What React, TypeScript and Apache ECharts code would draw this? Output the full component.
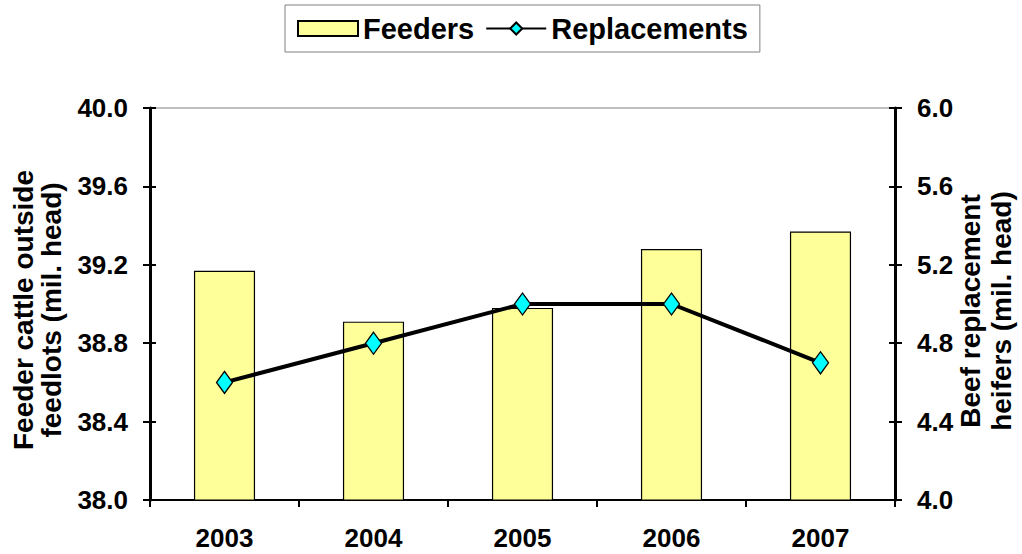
import React, { useEffect, useRef } from "react";
import * as echarts from "echarts";

const years = ["2003", "2004", "2005", "2006", "2007"];
const feeders = [39.17, 38.91, 38.98, 39.28, 39.37];
const replacements = [4.6, 4.8, 5.0, 5.0, 4.7];
const leftTitle = "Feeder cattle outside\nfeedlots (mil. head)";
const rightTitle = "Beef replacement\nheifers (mil. head)";

const FONT = "'Liberation Sans', Arial, sans-serif";

export default function App() {
  const ref = useRef<HTMLDivElement>(null);
  useEffect(() => {
    if (!ref.current) return;
    const chart = echarts.init(ref.current, null, { renderer: "svg" });
    const labelStyle = { color: "#000", fontWeight: "bold" as const, fontSize: 26, fontFamily: FONT };
    const fmt = (v: number) => v.toFixed(1);
    chart.setOption({
      animation: false,
      backgroundColor: "#fff",
      textStyle: { fontFamily: FONT },
      legend: {
        left: 285,
        top: 5,
        padding: [9, 12, 9, 12],
        borderColor: "#808080",
        borderWidth: 1,
        itemWidth: 60,
        itemHeight: 15,
        itemGap: 11,
        textStyle: { ...labelStyle, fontSize: 29 },
        data: [
          { name: "Feeders", icon: "rect" },
          { name: "Replacements" },
        ],
      },
      grid: {
        left: 150,
        right: 127,
        top: 108,
        bottom: 54,
        show: true,
        borderColor: "#808080",
        borderWidth: 1,
      },
      xAxis: {
        type: "category",
        data: years,
        axisLine: { lineStyle: { color: "#000", width: 2 } },
        axisTick: { show: true, length: 7, lineStyle: { color: "#000", width: 2 } },
        axisLabel: { ...labelStyle, margin: 25 },
      },
      yAxis: [
        {
          type: "value",
          position: "left",
          min: 38,
          max: 40,
          interval: 0.4,
          axisLine: { show: true, lineStyle: { color: "#000", width: 3 } },
          axisTick: { show: true, length: 7, lineStyle: { color: "#000", width: 2 } },
          axisLabel: { ...labelStyle, margin: 22, formatter: fmt },
          splitLine: { show: false },
        },
        {
          type: "value",
          position: "right",
          min: 4,
          max: 6,
          interval: 0.4,
          axisLine: { show: true, lineStyle: { color: "#000", width: 3 } },
          axisTick: { show: true, length: 7, lineStyle: { color: "#000", width: 2 } },
          axisLabel: { ...labelStyle, margin: 22, formatter: fmt },
          splitLine: { show: false },
        },
        {
          type: "value",
          position: "left",
          min: 38,
          max: 40,
          interval: 0.4,
          axisLine: { show: false },
          axisTick: { show: true, inside: true, length: 6, lineStyle: { color: "#000", width: 2 } },
          axisLabel: { show: false },
          splitLine: { show: false },
        },
        {
          type: "value",
          position: "right",
          min: 4,
          max: 6,
          interval: 0.4,
          axisLine: { show: false },
          axisTick: { show: true, inside: true, length: 6, lineStyle: { color: "#000", width: 2 } },
          axisLabel: { show: false },
          splitLine: { show: false },
        },
      ],
      graphic: [
        {
          type: "text",
          x: 37,
          y: 310,
          rotation: Math.PI / 2,
          style: {
            text: leftTitle,
            fill: "#000",
            font: `bold 28px ${FONT}`,
            align: "center",
            verticalAlign: "middle",
            lineHeight: 28,
          },
        },
        {
          type: "text",
          x: 986,
          y: 311,
          rotation: Math.PI / 2,
          style: {
            text: rightTitle,
            fill: "#000",
            font: `bold 28px ${FONT}`,
            align: "center",
            verticalAlign: "middle",
            lineHeight: 31,
          },
        },
      ],
      series: [
        {
          name: "Feeders",
          type: "bar",
          yAxisIndex: 0,
          data: feeders,
          barWidth: "41%",
          itemStyle: { color: "#FFFF99", borderColor: "#000", borderWidth: 1.2 },
        },
        {
          name: "Replacements",
          type: "line",
          yAxisIndex: 1,
          data: replacements,
          symbol: "diamond",
          symbolSize: [16, 22],
          lineStyle: { color: "#000", width: 4 },
          itemStyle: { color: "#00FFFF", borderColor: "#000", borderWidth: 1.3 },
        },
      ],
    });
    return () => chart.dispose();
  }, []);
  return (
    <div
      ref={ref}
      style={{ position: "fixed", left: 0, top: 0, width: 1022, height: 554 }}
    />
  );
}
